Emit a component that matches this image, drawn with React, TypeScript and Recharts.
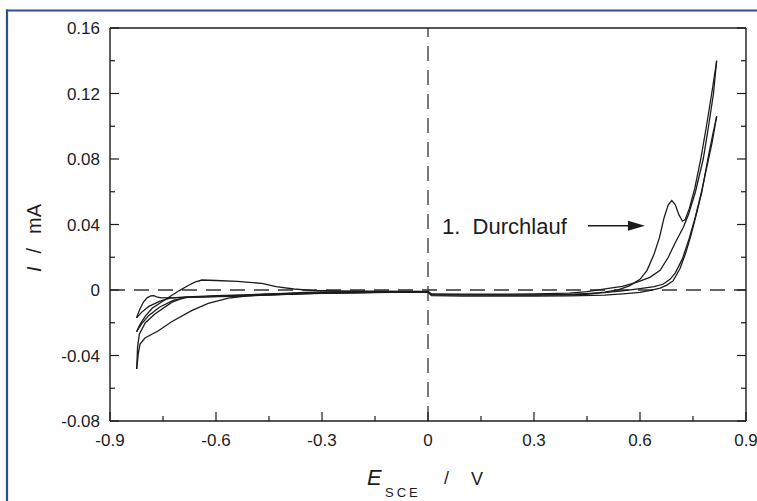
import React from "react";
import { LineChart, Line, XAxis, YAxis, ReferenceLine } from "recharts";

type Pt = [number, number];

// [E_SCE / V, I / mA], one array per half sweep, in the order they were recorded
const sweepStart: Pt[] = [
  [0, -0.0012], [-0.1, -0.0013], [-0.2, -0.0016], [-0.3, -0.0019], [-0.4, -0.0026],
  [-0.5, -0.0031], [-0.6, -0.0038], [-0.68, -0.0045], [-0.72, -0.0062], [-0.76, -0.0105],
  [-0.79, -0.0155], [-0.81, -0.0205], [-0.825, -0.0255],
];

// 1. Durchlauf: hump near -0.64 V and the peak at 0.69 V
const sweep1Up: Pt[] = [
  [-0.825, -0.0255], [-0.815, -0.021], [-0.8, -0.016], [-0.78, -0.011], [-0.755, -0.0075],
  [-0.73, -0.004], [-0.705, -0.0005], [-0.68, 0.0026], [-0.66, 0.0048], [-0.64, 0.0061],
  [-0.6, 0.0058], [-0.54, 0.0053], [-0.47, 0.004], [-0.43, 0.002], [-0.38, 0.0006],
  [-0.33, -0.0002], [-0.25, -0.0006], [-0.1, -0.0008], [0, -0.0008], [0.01, -0.0028],
  [0.1, -0.003], [0.2, -0.0031], [0.3, -0.0031], [0.4, -0.003], [0.45, -0.0026],
  [0.5, -0.0013], [0.54, 0.0002], [0.57, 0.0025], [0.6, 0.0065], [0.62, 0.012], [0.64, 0.022],
  [0.655, 0.032], [0.668, 0.044], [0.68, 0.052], [0.69, 0.0546], [0.7, 0.052],
  [0.71, 0.046], [0.72, 0.042], [0.728, 0.043], [0.74, 0.05], [0.755, 0.062],
  [0.772, 0.08], [0.788, 0.1], [0.803, 0.12], [0.817, 0.14],
];

const sweep1Down: Pt[] = [
  [0.817, 0.14], [0.808, 0.12], [0.794, 0.1], [0.779, 0.08], [0.757, 0.06], [0.737, 0.046],
  [0.722, 0.038], [0.7, 0.029], [0.68, 0.02], [0.657, 0.012], [0.628, 0.0077],
  [0.59, 0.0046], [0.55, 0.0022], [0.506, 0.0008], [0.45, -0.001], [0.4, -0.0019],
  [0.3, -0.0024], [0.2, -0.0025], [0.1, -0.0025], [0.01, -0.0024], [0, -0.001],
  [-0.1, -0.0009], [-0.2, -0.001], [-0.3, -0.0012], [-0.35, -0.0015], [-0.4, -0.002],
  [-0.461, -0.0025], [-0.509, -0.0035], [-0.565, -0.0049], [-0.622, -0.0082],
  [-0.669, -0.0126], [-0.7255, -0.0194], [-0.763, -0.0249], [-0.801, -0.0293],
  [-0.815, -0.033], [-0.82, -0.039], [-0.8245, -0.0483],
];

const sweep2Up: Pt[] = [
  [-0.8245, -0.0483], [-0.822, -0.035], [-0.817, -0.027], [-0.8, -0.02], [-0.773, -0.0147],
  [-0.7255, -0.0076], [-0.689, -0.0045], [-0.62, -0.0042], [-0.5, -0.0035], [-0.4, -0.0026],
  [-0.3, -0.002], [-0.2, -0.0017], [-0.1, -0.0015], [0, -0.0014], [0.01, -0.0034],
  [0.1, -0.0037], [0.2, -0.0038], [0.3, -0.0038], [0.4, -0.0036], [0.5, -0.0031],
  [0.56, -0.0022], [0.6, -0.0015], [0.63, -0.0002], [0.657, 0.0012], [0.676, 0.003],
  [0.694, 0.0057], [0.713, 0.013], [0.73, 0.023], [0.745, 0.034], [0.758, 0.045],
  [0.775, 0.06], [0.792, 0.08], [0.806, 0.095], [0.817, 0.106],
];

const sweep2Down: Pt[] = [
  [0.817, 0.106], [0.804, 0.09], [0.788, 0.074], [0.772, 0.058], [0.757, 0.045],
  [0.74, 0.032], [0.72, 0.019], [0.7, 0.0105], [0.685, 0.0065], [0.665, 0.0035],
  [0.64, 0.002], [0.6, 0.0008], [0.55, -0.0005], [0.5, -0.0016], [0.4, -0.0027],
  [0.3, -0.003], [0.2, -0.003], [0.1, -0.003], [0.01, -0.003], [0, -0.0013],
  [-0.1, -0.0012], [-0.2, -0.0013], [-0.3, -0.0016], [-0.4, -0.0021], [-0.5, -0.0028],
  [-0.6, -0.0035], [-0.68, -0.0042], [-0.73, -0.005], [-0.76, -0.007], [-0.79, -0.01],
  [-0.81, -0.0135], [-0.825, -0.017],
];

const sweepEnd: Pt[] = [
  [-0.825, -0.017], [-0.815, -0.0115], [-0.805, -0.0072], [-0.795, -0.0048],
  [-0.785, -0.0036], [-0.776, -0.0035], [-0.768, -0.0042], [-0.755, -0.0048],
  [-0.72, -0.0046], [-0.65, -0.0042], [-0.55, -0.0036], [-0.45, -0.0029], [-0.35, -0.0021],
  [-0.25, -0.0017], [-0.15, -0.0014], [-0.05, -0.0013], [0, -0.0013],
];

const sweeps = [sweepStart, sweep1Up, sweep1Down, sweep2Up, sweep2Down, sweepEnd];

const xTicks = [-0.9, -0.75, -0.6, -0.45, -0.3, -0.15, 0, 0.15, 0.3, 0.45, 0.6, 0.75, 0.9];
const xTickLabels = ["-0.9", "-0.6", "-0.3", "0", "0.3", "0.6", "0.9"];
const yTicks = [-0.08, -0.06, -0.04, -0.02, 0, 0.02, 0.04, 0.06, 0.08, 0.1, 0.12, 0.14, 0.16];
const yTickLabels = ["-0.08", "-0.04", "0", "0.04", "0.08", "0.12", "0.16"];

const INK = "#1c1c1c";
const BLUE = "#2c4d9c";
const FONT = "'Liberation Sans', Arial, Helvetica, sans-serif";

const toRows = (pts: Pt[]) => pts.map(([e, i]) => ({ e, i }));

const BottomTick = (props: any) => {
  const { x, y, payload } = props;
  const idx = xTicks.indexOf(payload.value);
  const major = idx % 2 === 0;
  return (
    <g>
      <line x1={x} y1={y} x2={x} y2={y - (major ? 9 : 5)} stroke={INK} strokeWidth={1.2} />
      {major && (
        <text x={x} y={y + 25} textAnchor="middle" fontSize={17} fontFamily={FONT} fill={INK}>
          {xTickLabels[idx / 2]}
        </text>
      )}
    </g>
  );
};

const TopTick = (props: any) => {
  const { x, y, payload } = props;
  const major = xTicks.indexOf(payload.value) % 2 === 0;
  return <line x1={x} y1={y} x2={x} y2={y + (major ? 9 : 5)} stroke={INK} strokeWidth={1.2} />;
};

const LeftTick = (props: any) => {
  const { x, y, payload } = props;
  const idx = yTicks.indexOf(payload.value);
  const major = idx % 2 === 0;
  return (
    <g>
      <line x1={x} y1={y} x2={x + (major ? 9 : 5)} y2={y} stroke={INK} strokeWidth={1.2} />
      {major && (
        <text x={x - 10} y={y + 6} textAnchor="end" fontSize={17} fontFamily={FONT} fill={INK}>
          {yTickLabels[idx / 2]}
        </text>
      )}
    </g>
  );
};

const RightTick = (props: any) => {
  const { x, y, payload } = props;
  const major = yTicks.indexOf(payload.value) % 2 === 0;
  return <line x1={x} y1={y} x2={x - (major ? 9 : 5)} y2={y} stroke={INK} strokeWidth={1.2} />;
};

const ArrowNote = (p: any) => {
  const { x1, y1, x2, y2 } = p;
  return (
    <g>
      <text x={x1 - 146} y={y1 + 8} fontSize={22} fontFamily={FONT} fill={INK}>
        {"1.\u00a0 Durchlauf"}
      </text>
      <line x1={x1} y1={y1} x2={x2 - 12} y2={y2} stroke={INK} strokeWidth={1.5} />
      <polygon points={`${x2},${y2} ${x2 - 17},${y2 - 5} ${x2 - 17},${y2 + 5}`} fill={INK} />
    </g>
  );
};

const axisLine = { stroke: INK, strokeWidth: 1.4 };

export default function App() {
  return (
    <div style={{ position: "absolute", left: 0, top: 0, width: 757, height: 501, background: "#fff" }}>
      <LineChart width={757} height={501} margin={{ top: 27, right: 10, bottom: 0, left: 0 }}>
        <XAxis
          dataKey="e"
          type="number"
          domain={[-0.9, 0.9]}
          ticks={xTicks}
          interval={0}
          allowDataOverflow
          height={80}
          tickSize={0}
          tickMargin={0}
          tickLine={false}
          axisLine={axisLine}
          tick={BottomTick}
        />
        <XAxis
          xAxisId="top"
          orientation="top"
          type="number"
          domain={[-0.9, 0.9]}
          ticks={xTicks}
          interval={0}
          allowDataOverflow
          height={1}
          tickSize={0}
          tickMargin={0}
          tickLine={false}
          axisLine={axisLine}
          tick={TopTick}
        />
        <YAxis
          type="number"
          domain={[-0.08, 0.16]}
          ticks={yTicks}
          interval={0}
          allowDataOverflow
          width={110}
          tickSize={0}
          tickMargin={0}
          tickLine={false}
          axisLine={axisLine}
          tick={LeftTick}
        />
        <YAxis
          yAxisId="right"
          orientation="right"
          type="number"
          domain={[-0.08, 0.16]}
          ticks={yTicks}
          interval={0}
          allowDataOverflow
          width={1}
          tickSize={0}
          tickMargin={0}
          tickLine={false}
          axisLine={axisLine}
          tick={RightTick}
        />
        <ReferenceLine x={0} stroke="#333" strokeWidth={1.3} strokeDasharray="15 9" />
        <ReferenceLine y={0} stroke="#333" strokeWidth={1.3} strokeDasharray="15 9" />
        <ReferenceLine
          segment={[{ x: 0.453, y: 0.0393 }, { x: 0.614, y: 0.0393 }]}
          shape={ArrowNote}
        />
        {sweeps.map((s, k) => (
          <Line
            key={k}
            data={toRows(s)}
            dataKey="i"
            type="linear"
            dot={false}
            activeDot={false}
            stroke={INK}
            strokeWidth={1.3}
            isAnimationActive={false}
          />
        ))}
      </LineChart>
      <svg
        width={757}
        height={501}
        style={{ position: "absolute", left: 0, top: 0, pointerEvents: "none" }}
      >
        <line x1={6} y1={10.5} x2={757} y2={10.5} stroke={BLUE} strokeWidth={2.2} />
        <line x1={7} y1={9.5} x2={7} y2={501} stroke={BLUE} strokeWidth={2.2} />
        <g transform="translate(41,272) rotate(-90)" fontFamily={FONT} fontSize={20} fill={INK}>
          <text x={0} y={0}>
            <tspan fontStyle="italic">I</tspan>
            <tspan dx={13}>/</tspan>
            <tspan dx={14}>mA</tspan>
          </text>
        </g>
        <g fontFamily={FONT} fill={INK}>
          <text x={367} y={485} fontSize={22} fontStyle="italic">E</text>
          <text x={385} y={497} fontSize={13} letterSpacing={3}>SCE</text>
          <text x={444} y={484} fontSize={18}>/</text>
          <text x={471} y={485} fontSize={18}>V</text>
        </g>
      </svg>
    </div>
  );
}
